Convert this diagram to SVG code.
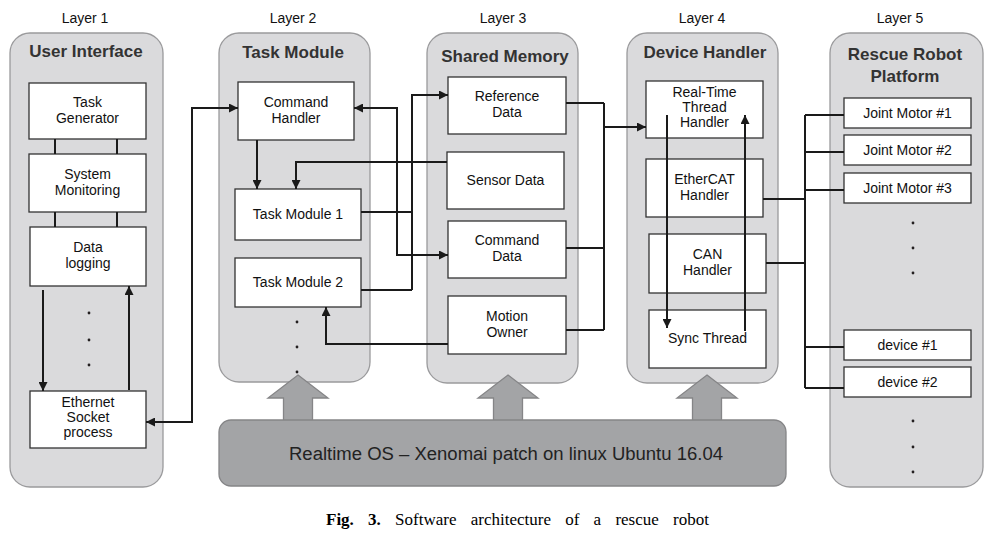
<svg xmlns="http://www.w3.org/2000/svg" width="1002" height="542" viewBox="0 0 1002 542">
<defs>
<style>
.panel{fill:#dadadc;stroke:#9a9a9c;stroke-width:1.3}
.box{fill:#fff;stroke:#333;stroke-width:1.3}
.t{font-family:"Liberation Sans",Arial,sans-serif;font-size:14px;fill:#111;text-anchor:middle}
.lay{font-family:"Liberation Sans",Arial,sans-serif;font-size:14px;fill:#111;text-anchor:middle}
.ttl{font-family:"Liberation Sans",Arial,sans-serif;font-size:17px;font-weight:bold;fill:#333;text-anchor:middle}
.c{fill:none;stroke:#1a1a1a;stroke-width:2}
.a{marker-end:url(#ah)}
.aa{marker-start:url(#ah);marker-end:url(#ah)}
.dot{fill:#231f20}
.blk{fill:#a3a4a6;stroke:#858587;stroke-width:1.3}
</style>
<marker id="ah" viewBox="0 0 10 10" refX="10" refY="5" markerWidth="11" markerHeight="9" markerUnits="userSpaceOnUse" orient="auto-start-reverse">
<path d="M0,0 L10,5 L0,10 Z" fill="#1a1a1a"/>
</marker>
</defs>

<g id="layer-labels">
<text class="lay" x="85" y="23">Layer 1</text>
<text class="lay" x="293" y="23">Layer 2</text>
<text class="lay" x="503" y="23">Layer 3</text>
<text class="lay" x="702" y="23">Layer 4</text>
<text class="lay" x="900" y="23">Layer 5</text>
</g>

<g id="layer1">
<rect class="panel" x="10" y="33" width="153" height="454" rx="20"/>
<text class="ttl" x="86" y="57">User Interface</text>
</g>
<g id="layer2">
<rect class="panel" x="219" y="33" width="151" height="349" rx="20"/>
<text class="ttl" x="293" y="58">Task Module</text>
</g>
<g id="layer3">
<rect class="panel" x="427" y="33" width="151" height="350" rx="20"/>
<text class="ttl" x="505" y="62">Shared Memory</text>
</g>
<g id="layer4">
<rect class="panel" x="627" y="33" width="151" height="350" rx="20"/>
<text class="ttl" x="705" y="58">Device Handler</text>
</g>
<g id="layer5">
<rect class="panel" x="830" y="33" width="153" height="454" rx="20"/>
<text class="ttl" x="905" y="60">Rescue Robot</text>
<text class="ttl" x="905" y="82">Platform</text>
</g>

<g id="os">
<polygon class="blk" points="298,375 328,398 312.5,398 312.5,421 283.5,421 283.5,398 268,398"/>
<polygon class="blk" points="508,375 538,398 522.5,398 522.5,421 493.5,421 493.5,398 478,398"/>
<polygon class="blk" points="707,375 737,398 721.5,398 721.5,421 692.5,421 692.5,398 677,398"/>
<rect class="blk" x="219" y="420" width="567" height="66" rx="12"/>
<text class="t" x="506" y="460" style="font-size:18px;fill:#222" textLength="434" lengthAdjust="spacingAndGlyphs">Realtime OS  –  Xenomai patch on linux Ubuntu 16.04</text>
</g>

<g id="task-generator"><rect class="box" x="29" y="83" width="117" height="56"/><text class="t" x="87.5" y="107">Task</text><text class="t" x="87.5" y="123">Generator</text></g>
<g id="system-monitoring"><rect class="box" x="29" y="154" width="117" height="58"/><text class="t" x="87.5" y="179">System</text><text class="t" x="87.5" y="195">Monitoring</text></g>
<g id="data-logging"><rect class="box" x="30" y="227" width="116" height="59"/><text class="t" x="88" y="252">Data</text><text class="t" x="88" y="268">logging</text></g>
<g id="ethernet-socket"><rect class="box" x="30" y="391" width="116" height="57"/><text class="t" x="88" y="407">Ethernet</text><text class="t" x="88" y="422">Socket</text><text class="t" x="88" y="437">process</text></g>

<g id="command-handler"><rect class="box" x="238" y="82" width="116" height="58"/><text class="t" x="296" y="107">Command</text><text class="t" x="296" y="123">Handler</text></g>
<g id="task-module-1"><rect class="box" x="235" y="189" width="126" height="51"/><text class="t" x="298" y="219">Task Module 1</text></g>
<g id="task-module-2"><rect class="box" x="235" y="258" width="126" height="49"/><text class="t" x="298" y="287">Task Module 2</text></g>

<g id="reference-data"><rect class="box" x="448" y="77" width="118" height="57"/><text class="t" x="507" y="101">Reference</text><text class="t" x="507" y="117">Data</text></g>
<g id="sensor-data"><rect class="box" x="447" y="152" width="117" height="57"/><text class="t" x="505.5" y="185">Sensor Data</text></g>
<g id="command-data"><rect class="box" x="448" y="221" width="118" height="57"/><text class="t" x="507" y="245">Command</text><text class="t" x="507" y="261">Data</text></g>
<g id="motion-owner"><rect class="box" x="448" y="296" width="118" height="58"/><text class="t" x="507" y="321">Motion</text><text class="t" x="507" y="337">Owner</text></g>

<g id="rt-thread-handler"><rect class="box" x="646" y="81" width="117" height="57"/><text class="t" x="704.5" y="97">Real-Time</text><text class="t" x="704.5" y="112">Thread</text><text class="t" x="704.5" y="127">Handler</text></g>
<g id="ethercat-handler"><rect class="box" x="646" y="159" width="117" height="58"/><text class="t" x="704.5" y="184">EtherCAT</text><text class="t" x="704.5" y="200">Handler</text></g>
<g id="can-handler"><rect class="box" x="649" y="234" width="117" height="59"/><text class="t" x="707.5" y="259">CAN</text><text class="t" x="707.5" y="275">Handler</text></g>
<g id="sync-thread"><rect class="box" x="649" y="310" width="117" height="58"/><text class="t" x="707.5" y="343">Sync Thread</text></g>

<g id="joint-motor-1"><rect class="box" x="844" y="98" width="127" height="30"/><text class="t" x="907.5" y="118">Joint Motor #1</text></g>
<g id="joint-motor-2"><rect class="box" x="844" y="135" width="127" height="30"/><text class="t" x="907.5" y="155">Joint Motor #2</text></g>
<g id="joint-motor-3"><rect class="box" x="844" y="173" width="127" height="30"/><text class="t" x="907.5" y="193">Joint Motor #3</text></g>
<g id="device-1"><rect class="box" x="844" y="330" width="127" height="30"/><text class="t" x="907.5" y="350">device #1</text></g>
<g id="device-2"><rect class="box" x="844" y="367" width="127" height="30"/><text class="t" x="907.5" y="387">device #2</text></g>

<g id="dots">
<circle class="dot" cx="89" cy="313" r="1.4"/><circle class="dot" cx="89" cy="340" r="1.4"/><circle class="dot" cx="89" cy="365" r="1.4"/>
<circle class="dot" cx="297" cy="322" r="1.4"/><circle class="dot" cx="297" cy="347" r="1.4"/><circle class="dot" cx="297" cy="372" r="1.4"/>
<circle class="dot" cx="913" cy="223" r="1.4"/><circle class="dot" cx="913" cy="248" r="1.4"/><circle class="dot" cx="913" cy="273" r="1.4"/>
<circle class="dot" cx="913" cy="421" r="1.4"/><circle class="dot" cx="913" cy="447" r="1.4"/><circle class="dot" cx="913" cy="472" r="1.4"/>
</g>

<g id="connectors">
<path class="c" d="M55,139 V154 M117,139 V154 M55,212 V227 M117,212 V227"/>
<path class="c a" d="M43,290 V391"/>
<path class="c a" d="M129,390 V286"/>
<path class="c aa" d="M146,422 H192 V108 H238"/>
<path class="c a" d="M257,140 V189"/>
<path class="c aa" d="M354,108 H397 V255 H448"/>
<path class="c a" d="M447,162 H296 V189"/>
<path class="c" d="M361,212 H412 M361,290 H412"/>
<path class="c a" d="M412,290 V95 H448"/>
<path class="c a" d="M448,344 H326 V307"/>
<path class="c" d="M566,103 H604 M566,248 H604 M566,330 H604 M604,103 V330"/>
<path class="c a" d="M604,127 H646"/>
<path class="c a" d="M667,115 V328"/>
<path class="c a" d="M745,331 V115"/>
<path class="c" d="M763,199 H805 M766,263 H805 M805,115 V388 M805,115 H844 M805,152 H844 M805,190 H844 M805,347 H844 M805,388 H844"/>
</g>

<text x="326" y="525" style="font-family:'Liberation Serif','Times New Roman',serif;font-size:17px;fill:#000" word-spacing="10"><tspan font-weight="bold">Fig. 3.</tspan> Software architecture of a rescue robot</text>
</svg>
